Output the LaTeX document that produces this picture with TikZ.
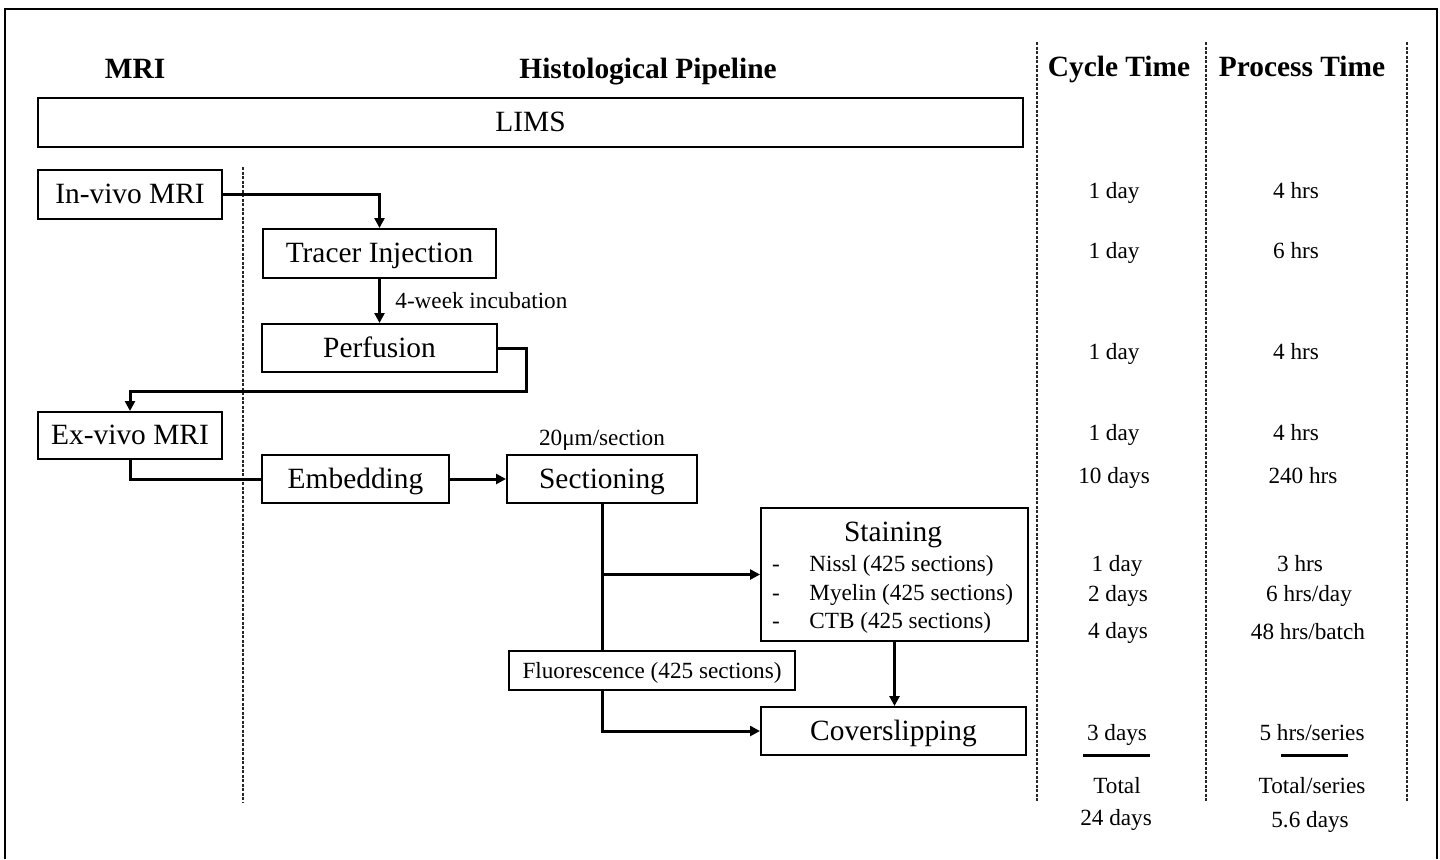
\documentclass[tikz,border=0pt]{standalone}
\usepackage{fontspec}
\setmainfont{Liberation Serif}
\usetikzlibrary{arrows.meta}
\begin{document}
\begin{tikzpicture}[x=0.5pt,y=-0.5pt,
  box/.style={draw,line width=1pt,inner sep=0pt,font=\fontsize{14.7}{17}\selectfont,text height=10pt,text depth=1pt},
  conn/.style={line width=1.5pt},
  arr/.style={conn,-{Triangle[length=5pt,width=5pt]}},
  hdr/.style={font=\fontsize{14.7}{17}\selectfont\bfseries,text height=10pt,text depth=0pt},
  val/.style={font=\fontsize{11.6}{14}\selectfont,text height=9pt,text depth=0.8pt},
  small/.style={font=\fontsize{11.6}{14}\selectfont,text height=9pt,text depth=0.8pt},
  sepline/.style={line width=0.6pt,dash pattern=on 1.5pt off 0.75pt,black!85},
  rulebar/.style={line width=1.5pt},
]
\useasboundingbox (0,0) rectangle (1440,859);
% frame
\draw[line width=0.8pt] (5,859) -- (5,9) -- (1437,9) -- (1437,859);

% headers
\node[hdr] (hmri) at (135,68) {MRI};
\node[hdr] (hhist) at (648,68) {Histological Pipeline};
\node[hdr] (hcyc) at (1119,66) {Cycle Time};
\node[hdr] (hproc) at (1302,66) {Process Time};

% dashed separators
\coordinate (s1t) at (243,167); \coordinate (s1b) at (243,802);
\coordinate (s2t) at (1037,42); \coordinate (s2b) at (1037,802);
\coordinate (s3t) at (1206,42); \coordinate (s3b) at (1206,802);
\coordinate (s4t) at (1407,42); \coordinate (s4b) at (1407,802);
\draw[sepline] (s1t) -- (s1b);
\draw[sepline] (s2t) -- (s2b);
\draw[sepline] (s3t) -- (s3b);
\draw[sepline] (s4t) -- (s4b);

% boxes
\node[box,minimum width=492.5pt,minimum height=24.5pt] (lims) at (530.5,122.5) {LIMS};
\node[box,minimum width=92pt,minimum height=24.5pt] (invivo) at (130,194.5) {In-vivo MRI};
\node[box,minimum width=116.5pt,minimum height=24.5pt] (tracer) at (379.5,253.5) {Tracer Injection};
\node[box,minimum width=117.5pt,minimum height=24pt] (perf) at (379.5,348) {Perfusion};
\node[box,minimum width=92pt,minimum height=23.5pt] (exvivo) at (130,435.5) {Ex-vivo MRI};
\node[box,minimum width=93.5pt,minimum height=24pt] (embed) at (355.5,479) {Embedding};
\node[box,minimum width=95pt,minimum height=24pt] (sect) at (602,479) {Sectioning};
\node[box,minimum width=133.5pt,minimum height=66.5pt] (stain) at (894.5,574.5) {};
\node[box,minimum width=143pt,minimum height=19.5pt,font=\fontsize{11.6}{14}\selectfont,text height=9pt,text depth=0.8pt] (fluor) at (652,670.5) {Fluorescence (425 sections)};
\node[box,minimum width=132.5pt,minimum height=24pt] (cover) at (893.5,731) {Coverslipping};

% staining contents
\node[font=\fontsize{14.7}{17}\selectfont,text height=10pt,text depth=1pt] (stitle) at (893,532) {Staining};
\node[small] (d1) at (776,563) {-};
\node[small] (d2) at (776,592) {-};
\node[small] (d3) at (776,620) {-};
\node[small,anchor=west,inner sep=0pt] (nissl) at (809,563) {Nissl (425 sections)};
\node[small,anchor=west,inner sep=0pt] (myelin) at (809,592) {Myelin (425 sections)};
\node[small,anchor=west,inner sep=0pt] (ctb) at (809,620) {CTB (425 sections)};

% labels
\node[small,anchor=west,inner sep=0pt] (incub) at (395,300) {4-week incubation};
\node[small] (micron) at (602,437) {20μm/section};

% connectors
\draw[arr] (invivo.east) -| (tracer.north);
\draw[arr] (tracer.south) -- (perf.north);
\coordinate (pturn) at (526,391);
\draw[arr] (perf.east) -| (pturn) -| (exvivo.north);
\draw[conn] (exvivo.south) |- (embed.west);
\draw[arr] (embed.east) -- (sect.west);
\coordinate (fl) at (sect.south |- fluor.north);
\draw[conn] (sect.south) -- (fl);
\coordinate (br) at (sect.south |- stain.west);
\draw[arr] (br) -- (stain.west);
\coordinate (flb) at (sect.south |- fluor.south);
\draw[arr] (flb) |- (cover.west);
\draw[arr] (stain.south) -- (stain.south |- cover.north);

% cycle time values
\node[val] (c1) at (1114,190) {1 day};
\node[val] (c2) at (1114,250) {1 day};
\node[val] (c3) at (1114,351) {1 day};
\node[val] (c4) at (1114,432) {1 day};
\node[val] (c5) at (1114,475) {10 days};
\node[val] (c6) at (1117,563) {1 day};
\node[val] (c7) at (1118,593) {2 days};
\node[val] (c8) at (1118,630) {4 days};
\node[val] (c9) at (1117,732) {3 days};
\node[val] (c10) at (1117,785) {Total};
\node[val] (c11) at (1116,817) {24 days};
\coordinate (cr1) at (1083,755); \coordinate (cr2) at (1150,755);
\draw[rulebar] (cr1) -- (cr2);

% process time values
\node[val] (p1) at (1296,190) {4 hrs};
\node[val] (p2) at (1296,250) {6 hrs};
\node[val] (p3) at (1296,351) {4 hrs};
\node[val] (p4) at (1296,432) {4 hrs};
\node[val] (p5) at (1303,475) {240 hrs};
\node[val] (p6) at (1300,563) {3 hrs};
\node[val] (p7) at (1309,593) {6 hrs/day};
\node[val] (p8) at (1308,631) {48 hrs/batch};
\node[val] (p9) at (1312,732) {5 hrs/series};
\node[val] (p10) at (1312,785) {Total/series};
\node[val] (p11) at (1310,819) {5.6 days};
\coordinate (pr1) at (1281,755); \coordinate (pr2) at (1348,755);
\draw[rulebar] (pr1) -- (pr2);
\end{tikzpicture}
\end{document}
